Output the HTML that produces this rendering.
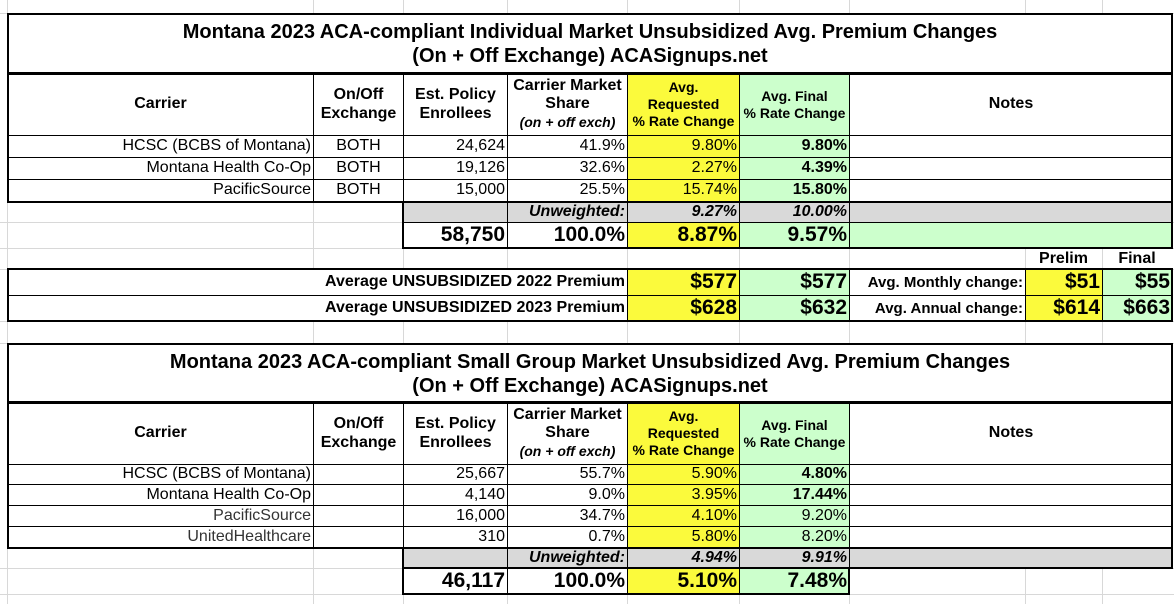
<!DOCTYPE html>
<html><head><meta charset="utf-8"><style>
body{margin:0;width:1174px;height:604px;background:#fff;position:relative;overflow:hidden;font-family:"Liberation Sans",Arial,sans-serif;}
.g{position:absolute;background:#d8d8d8;}
.c{position:absolute;box-sizing:border-box;border:1px solid #000;font-size:16px;display:flex;align-items:center;padding:0 2px;background:#fff;color:#000;line-height:1.05;overflow:hidden;white-space:nowrap;}
.r{justify-content:flex-end;}
.m{justify-content:center;text-align:center;}
.b{font-weight:bold;}
.i{font-style:italic;}
.y{background:#fbfa3c;}
.n{background:#ccffcc;}
.s{background:#d9d9d9;}
.big{font-size:21px;font-weight:bold;}
.f{position:absolute;box-sizing:border-box;border:2px solid #000;}
.t{position:absolute;box-sizing:border-box;border:2px solid #000;background:#fff;text-align:center;font-weight:bold;font-size:20px;line-height:24px;padding-top:5px;}
.h{white-space:normal;line-height:1.15;}
.sm{font-size:14px;line-height:1.2;white-space:nowrap;padding:0;}
</style></head><body>
<div class="g" style="left:313px;top:0;width:1px;height:604px"></div>
<div class="g" style="left:403px;top:0;width:1px;height:604px"></div>
<div class="g" style="left:507px;top:0;width:1px;height:604px"></div>
<div class="g" style="left:627px;top:0;width:1px;height:604px"></div>
<div class="g" style="left:739px;top:0;width:1px;height:604px"></div>
<div class="g" style="left:849px;top:0;width:1px;height:604px"></div>
<div class="g" style="left:1025px;top:0;width:1px;height:604px"></div>
<div class="g" style="left:1102px;top:0;width:1px;height:604px"></div>
<div class="g" style="left:7px;top:0;width:1px;height:604px"></div>
<div class="g" style="left:0;top:13px;width:1174px;height:1px"></div>
<div class="g" style="left:0;top:222px;width:1174px;height:1px"></div>
<div class="g" style="left:0;top:248px;width:1174px;height:1px"></div>
<div class="g" style="left:0;top:269px;width:1174px;height:1px"></div>
<div class="g" style="left:0;top:321px;width:1174px;height:1px"></div>
<div class="g" style="left:0;top:343px;width:1174px;height:1px"></div>
<div class="g" style="left:0;top:568px;width:1174px;height:1px"></div>
<div class="g" style="left:0;top:594px;width:1174px;height:1px"></div>

<!-- TABLE 1 -->
<div class="t" style="left:7px;top:13px;width:1166px;height:61px">Montana 2023 ACA-compliant Individual Market Unsubsidized Avg. Premium Changes<br>(On + Off Exchange) ACASignups.net</div>
<div class="c m b" style="left:7px;top:73px;width:307px;height:63px">Carrier</div>
<div class="c m b h" style="left:313px;top:73px;width:91px;height:63px">On/Off<br>Exchange</div>
<div class="c m b h" style="left:403px;top:73px;width:105px;height:63px">Est. Policy<br>Enrollees</div>
<div class="c m b h" style="left:507px;top:73px;width:121px;height:63px;padding:0"><div>Carrier Market<br>Share<br><span class="i" style="font-size:14px">(on + off exch)</span></div></div>
<div class="c m b y sm" style="left:627px;top:73px;width:113px;height:63px">Avg.<br>Requested<br>% Rate Change</div>
<div class="c m b n sm" style="left:739px;top:73px;width:111px;height:63px">Avg. Final<br>% Rate Change</div>
<div class="c m b" style="left:849px;top:73px;width:324px;height:63px">Notes</div>

<div class="c r" style="left:7px;top:135px;width:307px;height:23px">HCSC (BCBS of Montana)</div>
<div class="c m" style="left:313px;top:135px;width:91px;height:23px">BOTH</div>
<div class="c r" style="left:403px;top:135px;width:105px;height:23px">24,624</div>
<div class="c r" style="left:507px;top:135px;width:121px;height:23px">41.9%</div>
<div class="c r y" style="left:627px;top:135px;width:113px;height:23px">9.80%</div>
<div class="c r n b" style="left:739px;top:135px;width:111px;height:23px">9.80%</div>
<div class="c" style="left:849px;top:135px;width:324px;height:23px"></div>

<div class="c r" style="left:7px;top:157px;width:307px;height:23px">Montana Health Co-Op</div>
<div class="c m" style="left:313px;top:157px;width:91px;height:23px">BOTH</div>
<div class="c r" style="left:403px;top:157px;width:105px;height:23px">19,126</div>
<div class="c r" style="left:507px;top:157px;width:121px;height:23px">32.6%</div>
<div class="c r y" style="left:627px;top:157px;width:113px;height:23px">2.27%</div>
<div class="c r n b" style="left:739px;top:157px;width:111px;height:23px">4.39%</div>
<div class="c" style="left:849px;top:157px;width:324px;height:23px"></div>

<div class="c r" style="left:7px;top:179px;width:307px;height:23px">PacificSource</div>
<div class="c m" style="left:313px;top:179px;width:91px;height:23px">BOTH</div>
<div class="c r" style="left:403px;top:179px;width:105px;height:23px">15,000</div>
<div class="c r" style="left:507px;top:179px;width:121px;height:23px">25.5%</div>
<div class="c r y" style="left:627px;top:179px;width:113px;height:23px">15.74%</div>
<div class="c r n b" style="left:739px;top:179px;width:111px;height:23px">15.80%</div>
<div class="c" style="left:849px;top:179px;width:324px;height:23px"></div>

<div class="c s" style="left:403px;top:201px;width:105px;height:22px"></div>
<div class="c r s b i" style="left:507px;top:201px;width:121px;height:22px">Unweighted:</div>
<div class="c r s b i" style="left:627px;top:201px;width:113px;height:22px">9.27%</div>
<div class="c r s b i" style="left:739px;top:201px;width:111px;height:22px">10.00%</div>
<div class="c s" style="left:849px;top:201px;width:324px;height:22px"></div>

<div class="c r big" style="left:403px;top:222px;width:105px;height:27px">58,750</div>
<div class="c r big" style="left:507px;top:222px;width:121px;height:27px">100.0%</div>
<div class="c r big y" style="left:627px;top:222px;width:113px;height:27px">8.87%</div>
<div class="c r big n" style="left:739px;top:222px;width:111px;height:27px">9.57%</div>
<div class="c n" style="left:849px;top:222px;width:324px;height:27px"></div>

<div class="f" style="left:7px;top:73px;width:1166px;height:130px"></div>
<div class="f" style="left:402px;top:201px;width:771px;height:48px"></div>

<div style="position:absolute;left:1025px;top:249px;width:77px;height:20px;text-align:center;font-weight:bold;font-size:16px;line-height:20px">Prelim</div>
<div style="position:absolute;left:1102px;top:249px;width:70px;height:20px;text-align:center;font-weight:bold;font-size:16px;line-height:20px">Final</div>

<div class="c r b" style="left:7px;top:269px;width:621px;height:27px">Average UNSUBSIDIZED 2022 Premium</div>
<div class="c r big y" style="left:627px;top:269px;width:113px;height:27px">$577</div>
<div class="c r big n" style="left:739px;top:269px;width:111px;height:27px">$577</div>
<div class="c r b" style="left:849px;top:269px;width:177px;height:27px;font-size:15px">Avg. Monthly change:</div>
<div class="c r big y" style="left:1025px;top:269px;width:78px;height:27px">$51</div>
<div class="c r big n" style="left:1102px;top:269px;width:71px;height:27px">$55</div>

<div class="c r b" style="left:7px;top:295px;width:621px;height:27px">Average UNSUBSIDIZED 2023 Premium</div>
<div class="c r big y" style="left:627px;top:295px;width:113px;height:27px">$628</div>
<div class="c r big n" style="left:739px;top:295px;width:111px;height:27px">$632</div>
<div class="c r b" style="left:849px;top:295px;width:177px;height:27px;font-size:15px">Avg. Annual change:</div>
<div class="c r big y" style="left:1025px;top:295px;width:78px;height:27px">$614</div>
<div class="c r big n" style="left:1102px;top:295px;width:71px;height:27px">$663</div>
<div class="f" style="left:7px;top:268px;width:1166px;height:54px"></div>

<!-- TABLE 2 -->
<div class="t" style="left:7px;top:343px;width:1166px;height:60px">Montana 2023 ACA-compliant Small Group Market Unsubsidized Avg. Premium Changes<br>(On + Off Exchange) ACASignups.net</div>
<div class="c m b" style="left:7px;top:402px;width:307px;height:63px">Carrier</div>
<div class="c m b h" style="left:313px;top:402px;width:91px;height:63px">On/Off<br>Exchange</div>
<div class="c m b h" style="left:403px;top:402px;width:105px;height:63px">Est. Policy<br>Enrollees</div>
<div class="c m b h" style="left:507px;top:402px;width:121px;height:63px;padding:0"><div>Carrier Market<br>Share<br><span class="i" style="font-size:14px">(on + off exch)</span></div></div>
<div class="c m b y sm" style="left:627px;top:402px;width:113px;height:63px">Avg.<br>Requested<br>% Rate Change</div>
<div class="c m b n sm" style="left:739px;top:402px;width:111px;height:63px">Avg. Final<br>% Rate Change</div>
<div class="c m b" style="left:849px;top:402px;width:324px;height:63px">Notes</div>

<div class="c r" style="left:7px;top:464px;width:307px;height:21px">HCSC (BCBS of Montana)</div>
<div class="c" style="left:313px;top:464px;width:91px;height:21px"></div>
<div class="c r" style="left:403px;top:464px;width:105px;height:21px">25,667</div>
<div class="c r" style="left:507px;top:464px;width:121px;height:21px">55.7%</div>
<div class="c r y" style="left:627px;top:464px;width:113px;height:21px">5.90%</div>
<div class="c r n b" style="left:739px;top:464px;width:111px;height:21px">4.80%</div>
<div class="c" style="left:849px;top:464px;width:324px;height:21px"></div>

<div class="c r" style="left:7px;top:484px;width:307px;height:22px">Montana Health Co-Op</div>
<div class="c" style="left:313px;top:484px;width:91px;height:22px"></div>
<div class="c r" style="left:403px;top:484px;width:105px;height:22px">4,140</div>
<div class="c r" style="left:507px;top:484px;width:121px;height:22px">9.0%</div>
<div class="c r y" style="left:627px;top:484px;width:113px;height:22px">3.95%</div>
<div class="c r n b" style="left:739px;top:484px;width:111px;height:22px">17.44%</div>
<div class="c" style="left:849px;top:484px;width:324px;height:22px"></div>

<div class="c r" style="left:7px;top:505px;width:307px;height:22px;color:#333">PacificSource</div>
<div class="c" style="left:313px;top:505px;width:91px;height:22px"></div>
<div class="c r" style="left:403px;top:505px;width:105px;height:22px">16,000</div>
<div class="c r" style="left:507px;top:505px;width:121px;height:22px">34.7%</div>
<div class="c r y" style="left:627px;top:505px;width:113px;height:22px">4.10%</div>
<div class="c r n" style="left:739px;top:505px;width:111px;height:22px">9.20%</div>
<div class="c" style="left:849px;top:505px;width:324px;height:22px"></div>

<div class="c r" style="left:7px;top:526px;width:307px;height:22px;color:#333">UnitedHealthcare</div>
<div class="c" style="left:313px;top:526px;width:91px;height:22px"></div>
<div class="c r" style="left:403px;top:526px;width:105px;height:22px">310</div>
<div class="c r" style="left:507px;top:526px;width:121px;height:22px">0.7%</div>
<div class="c r y" style="left:627px;top:526px;width:113px;height:22px">5.80%</div>
<div class="c r n" style="left:739px;top:526px;width:111px;height:22px">8.20%</div>
<div class="c" style="left:849px;top:526px;width:324px;height:22px"></div>

<div class="c s" style="left:403px;top:547px;width:105px;height:22px"></div>
<div class="c r s b i" style="left:507px;top:547px;width:121px;height:22px">Unweighted:</div>
<div class="c r s b i" style="left:627px;top:547px;width:113px;height:22px">4.94%</div>
<div class="c r s b i" style="left:739px;top:547px;width:111px;height:22px">9.91%</div>
<div class="c s" style="left:849px;top:547px;width:324px;height:22px"></div>

<div class="c r big" style="left:403px;top:568px;width:105px;height:27px">46,117</div>
<div class="c r big" style="left:507px;top:568px;width:121px;height:27px">100.0%</div>
<div class="c r big y" style="left:627px;top:568px;width:113px;height:27px">5.10%</div>
<div class="c r big n" style="left:739px;top:568px;width:111px;height:27px">7.48%</div>

<div class="f" style="left:7px;top:402px;width:1166px;height:147px"></div>
<div class="f" style="left:402px;top:547px;width:771px;height:22px"></div>
<div class="f" style="left:402px;top:567px;width:448px;height:28px"></div>
</body></html>
